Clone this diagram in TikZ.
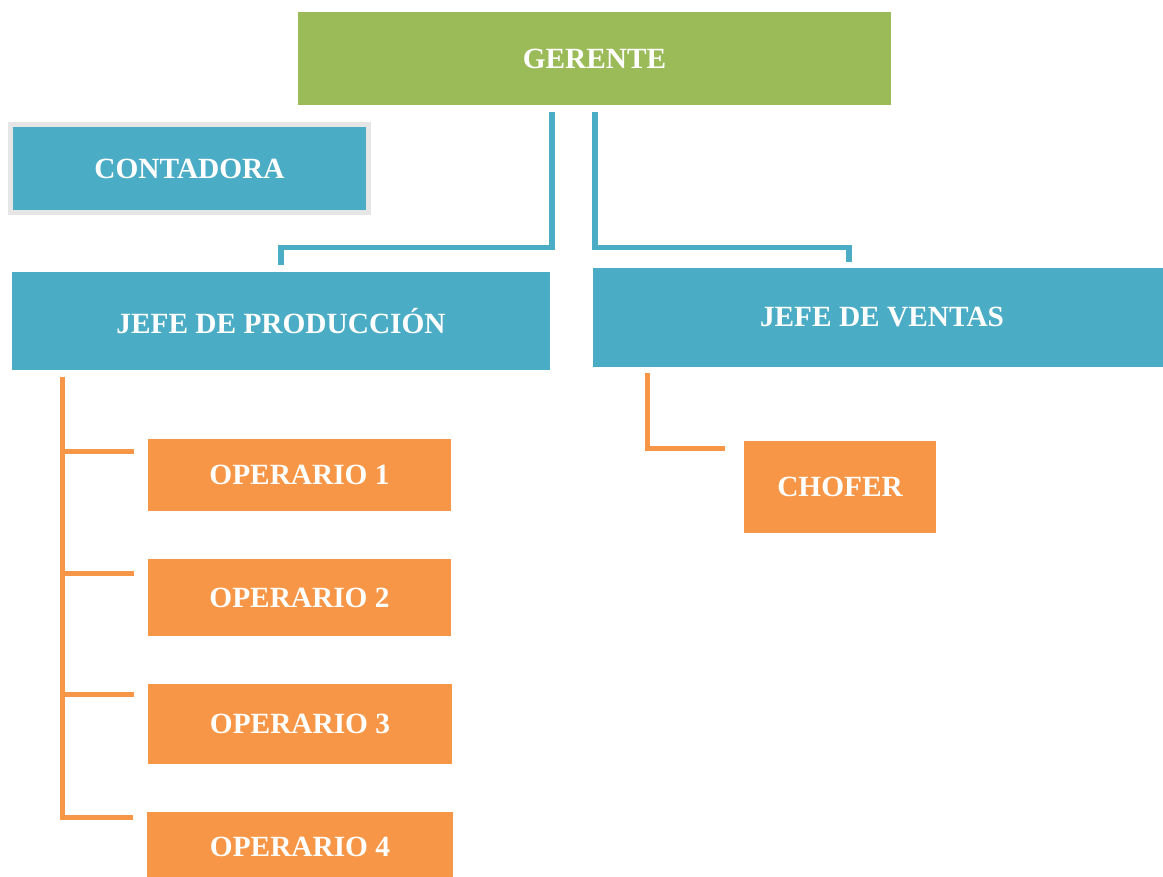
\documentclass[tikz,border=0pt]{standalone}
\usepackage{fontspec}
\setmainfont{Liberation Serif}
\usetikzlibrary{positioning}

\definecolor{azul}{HTML}{4BACC6}
\definecolor{verde}{HTML}{9BBB59}
\definecolor{naranja}{HTML}{F79646}
\definecolor{marco}{HTML}{E6E6E6}

\begin{document}
\begin{tikzpicture}[x=0.02cm,y=-0.02cm,
		caja/.style={inner sep=0pt,text=white,font=\fontsize{16.7}{20}\selectfont\bfseries},
		lineaazul/.style={draw=azul,line width=0.11cm},
		lineanaranja/.style={draw=naranja,line width=0.11cm}]
		\useasboundingbox (0,0) rectangle (1163,876);

		\node[caja,fill=verde,minimum width=11.86cm,minimum height=1.86cm] (gerente) at (594.5,58.5) {GERENTE};
		\node[caja,fill=azul,draw=marco,line width=0.1cm,minimum width=7.16cm,minimum height=1.76cm] (contadora) at (189.5,168.5) {CONTADORA};

		\node[caja,fill=azul,minimum width=10.76cm,minimum height=1.96cm] (jefeprod) at (281,321) {JEFE DE PRODUCCIÓN};
		\node[caja,fill=azul,minimum width=11.4cm,minimum height=1.98cm] (jefeventas) at (878,317.5) {\hspace{0.16cm}JEFE DE VENTAS};

		\node[caja,fill=naranja,minimum width=6.06cm,minimum height=1.44cm] (op1) at (299.5,475) {OPERARIO 1};
		\node[caja,fill=naranja,minimum width=6.06cm,minimum height=1.54cm] (op2) at (299.5,597.5) {OPERARIO 2};
		\node[caja,fill=naranja,minimum width=6.08cm,minimum height=1.6cm] (op3) at (300,724) {OPERARIO 3};
		\node[caja,fill=naranja,minimum width=6.12cm,minimum height=1.4cm] (op4) at (300,847) {OPERARIO 4};
		\node[caja,fill=naranja,minimum width=3.84cm,minimum height=1.84cm] (chofer) at (840,487) {CHOFER};

		\draw[lineaazul]
			([xshift=-0.85cm,yshift=-0.14cm]gerente.south) |- ([yshift=0.48cm]jefeprod.north) -- ([yshift=0.14cm]jefeprod.north);
		\draw[lineaazul]
			([xshift=0.01cm,yshift=-0.14cm]gerente.south) |- ([xshift=-0.58cm,yshift=0.4cm]jefeventas.north) -- ([xshift=-0.58cm,yshift=0.12cm]jefeventas.north);

		\draw[lineanaranja]
			([xshift=1.02cm,yshift=-0.14cm]jefeprod.south west) |- ([xshift=-0.28cm,yshift=-0.12cm]op4.north west);
		\foreach \n/\dy in {op1/0.26,op2/0.3,op3/0.22}
			\draw[lineanaranja] ([xshift=-0.28cm,yshift=-\dy cm]\n.north west) -- ++(-71,0);
		\draw[lineanaranja]
			([xshift=1.1cm,yshift=-0.12cm]jefeventas.south west) |- ([xshift=-0.38cm,yshift=-0.16cm]chofer.north west);
\end{tikzpicture}
\end{document}
